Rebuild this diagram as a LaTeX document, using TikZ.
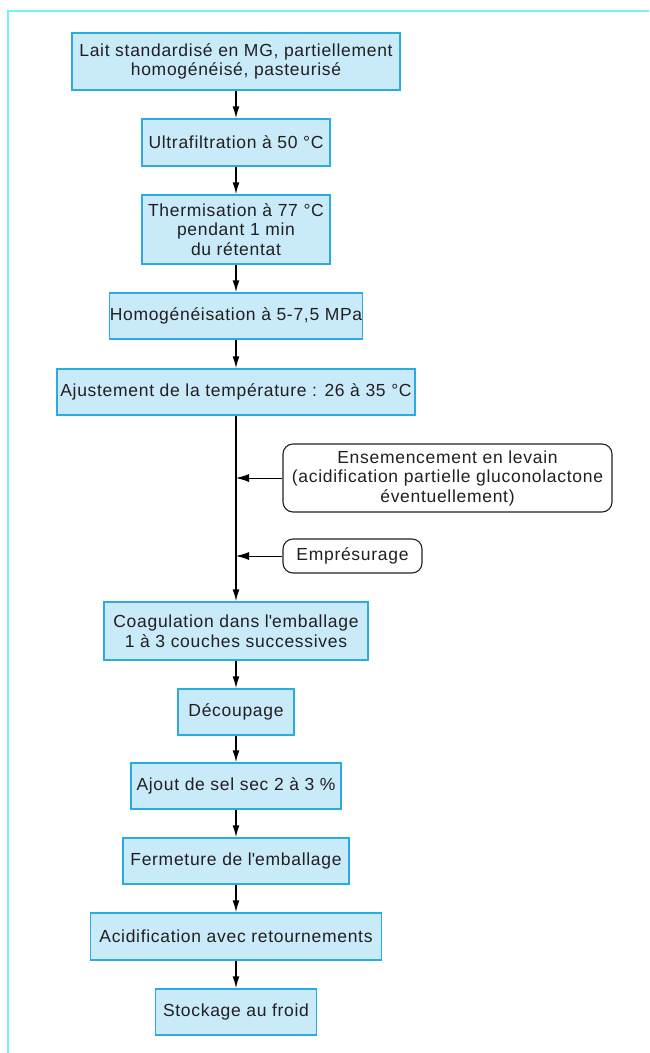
\documentclass[tikz,border=0pt]{standalone}
\usepackage{fontspec}
\setmainfont{Liberation Sans}[LetterSpace=4.0]
\usepackage{tikz}
\usetikzlibrary{arrows.meta,calc}
\definecolor{framecolor}{HTML}{74F2F2}
\definecolor{stepfill}{HTML}{C8EAF9}
\definecolor{stepdraw}{HTML}{2AACE2}
\definecolor{textgray}{HTML}{231F20}
\newcommand{\arrowtip}{Latex[length=12pt,width=7pt]}

\tikzset{
  stepbox/.style={draw=stepdraw, fill=stepfill, line width=1.4pt, inner sep=0pt,
    align=center, text=textgray, font=\fontsize{17.5}{19.5}\selectfont},
  addbox/.style={draw=textgray, fill=white, line width=1.1pt, rounded corners=10pt,
    inner sep=0pt, align=center, text=textgray, font=\fontsize{17.5}{19.5}\selectfont},
  flow/.style={-{\arrowtip}, line width=1.5pt, black},
  side/.style={-{Latex[length=13pt,width=8pt]}, line width=1pt, black}
}

\begin{document}
\begin{tikzpicture}[x=1pt, y=-1pt]
\useasboundingbox (0,0) rectangle (649,1053);
%frame
\draw[framecolor, line width=1.6pt] (8,1053) -- (8,11) -- (649,11);
%main steps
\node[stepbox, minimum width=328pt, minimum height=57pt] (lait) at (236, 61.5) {Lait standardisé en MG, partiellement\\homogénéisé, pasteurisé};
\node[stepbox, minimum width=188pt, minimum height=47pt] (ultra) at (236, 142.5) {Ultrafiltration à 50 °C};
\node[stepbox, minimum width=188pt, minimum height=69pt] (thermo) at (236, 229.5) {Thermisation à 77 °C\\pendant 1 min\\du rétentat};
\node[stepbox, minimum width=253pt, minimum height=46pt] (homog) at (236, 316) {Homogénéisation à 5-7,5 MPa};
\node[stepbox, minimum width=358pt, minimum height=46pt] (ajust) at (236, 392) {Ajustement de la température : 26 à 35 °C};
\node[stepbox, minimum width=264pt, minimum height=58pt] (coag) at (236, 631) {Coagulation dans l\textquotesingle emballage\\1 à 3 couches successives};
\node[stepbox, minimum width=116pt, minimum height=46pt] (decoup) at (236, 712) {Découpage};
\node[stepbox, minimum width=210pt, minimum height=46pt] (sel) at (236, 786) {Ajout de sel sec 2 à 3 \%};
\node[stepbox, minimum width=226pt, minimum height=46pt] (ferm) at (236, 861) {Fermeture de l\textquotesingle emballage};
\node[stepbox, minimum width=291pt, minimum height=47pt] (acid) at (236, 936.5) {Acidification avec retournements};
\node[stepbox, minimum width=161pt, minimum height=46pt] (stock) at (236, 1012) {Stockage au froid};
%additions
\node[addbox, minimum width=329pt, minimum height=68pt] (levain) at (447.5, 478) {Ensemencement en levain\\(acidification partielle gluconolactone\\éventuellement)};
\node[addbox, minimum width=139pt, minimum height=34pt] (presure) at (352.5, 556) {Emprésurage};
%connectors
\draw[flow] (lait) -- (ultra);
\draw[flow] (ultra) -- (thermo);
\draw[flow] (thermo) -- (homog);
\draw[flow] (homog) -- (ajust);
\draw[flow] (ajust) -- (coag);
\draw[flow] (coag) -- (decoup);
\draw[flow] (decoup) -- (sel);
\draw[flow] (sel) -- (ferm);
\draw[flow] (ferm) -- (acid);
\draw[flow] (acid) -- (stock);
\draw[side] (levain.west) -- (levain.west -| coag.north);
\draw[side] (presure.west) -- (presure.west -| coag.north);
\end{tikzpicture}
\end{document}
